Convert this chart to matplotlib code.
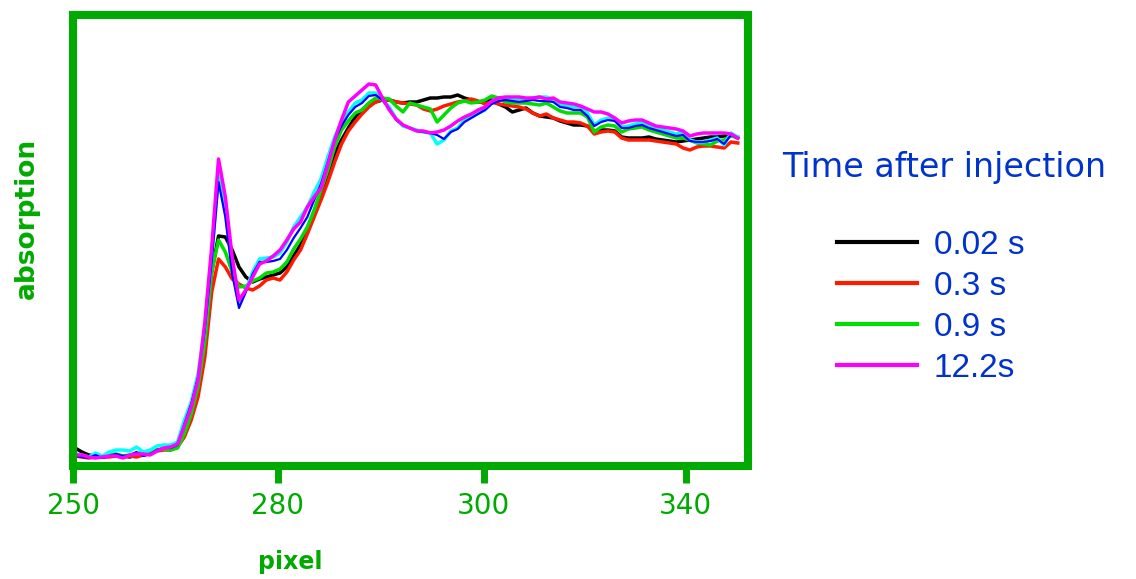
import matplotlib
matplotlib.use("Agg")
import matplotlib.pyplot as plt
from matplotlib import font_manager
import numpy as np

# detector pixel index
pixel = np.arange(250, 348)

# absorption (arbitrary units), one trace per delay
abs_002 = [14, 10, 7, 6, 5, 6, 7, 6, 5, 7,
           9, 10, 12, 13, 14, 18, 30, 50, 75, 120,
           190, 226, 225, 212, 195, 185, 180, 183, 185, 187,
           189, 195, 206, 217, 230, 250, 268, 289, 308, 322,
           334, 345, 352, 358, 360, 362, 362, 360, 359, 360,
           360, 362, 364, 364, 365, 365, 367, 364, 362, 360,
           361, 362, 358, 355, 350, 352, 354, 349, 346, 345,
           344, 341, 339, 337, 337, 336, 331, 332, 332, 331,
           325, 324, 324, 324, 325, 323, 322, 321, 320, 321,
           322, 323, 324, 325, 325, 326, 327, 324]
abs_03 = [6, 5, 4, 5, 5, 5, 6, 5, 6, 5,
          7, 8, 11, 12, 12, 15, 25, 42, 65, 105,
          170, 203, 195, 183, 178, 174, 172, 176, 182, 184,
          182, 190, 202, 212, 228, 245, 262, 280, 300, 318,
          331, 340, 348, 355, 360, 363, 362, 360, 359, 358,
          357, 353, 351, 353, 356, 358, 360, 361, 363, 361,
          358, 360, 358, 357, 356, 355, 353, 349, 346, 348,
          344, 342, 340, 340, 339, 336, 328, 330, 331, 330,
          324, 322, 322, 322, 322, 321, 320, 319, 318, 314,
          312, 315, 316, 316, 315, 314, 320, 319]
abs_09 = [8, 6, 5, 5, 6, 7, 8, 6, 7, 8,
          10, 11, 12, 13, 12, 14, 28, 48, 75, 120,
          190, 222, 210, 190, 175, 176, 181, 184, 189, 190,
          193, 200, 213, 223, 235, 252, 272, 292, 315, 332,
          341, 349, 352, 359, 364, 364, 363, 356, 350, 359,
          357, 355, 353, 340, 347, 354, 359, 361, 359, 360,
          362, 366, 364, 360, 359, 359, 359, 358, 357, 359,
          355, 351, 349, 349, 349, 345, 330, 335, 337, 336,
          330, 333, 334, 335, 332, 330, 328, 326, 324, 324,
          322, 319, 318, 317, 321, 322, 326, 325]
abs_blue = [6, 5, 4, 7, 4, 6, 8, 6, 7, 10,
            6, 8, 12, 14, 14, 17, 38, 58, 85, 132,
            200, 280, 245, 188, 154, 170, 188, 200, 200, 201,
            203, 212, 224, 234, 245, 262, 278, 300, 322, 336,
            347, 355, 359, 366, 367, 362, 353, 342, 337, 334,
            331, 330, 329, 327, 323, 330, 333, 340, 344, 348,
            352, 358, 361, 362, 361, 360, 361, 362, 361, 361,
            360, 355, 354, 352, 352, 346, 336, 340, 342, 341,
            334, 334, 336, 337, 334, 332, 330, 328, 326, 327,
            321, 320, 320, 321, 323, 318, 327, 324]
abs_cyan = [8, 7, 5, 9, 6, 10, 12, 12, 11, 15,
            10, 12, 16, 17, 17, 20, 42, 60, 88, 135,
            205, 287, 250, 195, 158, 172, 190, 203, 204, 205,
            209, 220, 235, 245, 255, 270, 283, 305, 325, 340,
            350, 359, 362, 369, 369, 362, 355, 343, 336, 334,
            332, 330, 329, 318, 322, 331, 334, 342, 345, 349,
            352, 360, 363, 363, 362, 362, 363, 364, 365, 365,
            362, 357, 356, 355, 355, 349, 337, 342, 344, 343,
            335, 336, 338, 340, 336, 334, 332, 330, 328, 330,
            322, 320, 320, 322, 324, 317, 329, 325]
abs_122 = [7, 7, 5, 4, 5, 6, 6, 4, 7, 8,
           8, 7, 11, 14, 15, 18, 36, 55, 82, 140,
           215, 303, 265, 205, 162, 172, 185, 198, 201, 206,
           212, 222, 233, 240, 255, 265, 274, 298, 322, 342,
           360, 366, 372, 378, 377, 364, 352, 343, 337, 334,
           331, 331, 329, 330, 332, 336, 341, 345, 348, 352,
           355, 361, 364, 365, 365, 365, 364, 364, 365, 363,
           364, 360, 359, 358, 356, 353, 350, 350, 348, 344,
           339, 341, 342, 342, 339, 336, 335, 334, 333, 331,
           326, 328, 329, 329, 329, 329, 328, 324]

# the original axis is labelled unevenly; ticks sit where the picture has them
tick_pos = [249.7, 279.7, 309.85, 339.4]
tick_labels = ["250", "280", "300", "340"]
legend_labels = ["0.02 s", "0.3 s", "0.9 s", "12.2s"]

GREEN = "#00aa00"
BLUE_TXT = "#0033cc"

# narrow face if there is one, otherwise plain DejaVu at smaller sizes
names = {f.name for f in font_manager.fontManager.ttflist}
if "Liberation Sans Narrow" in names:
    narrow, tick_fs, title_fs, xl_fs = "Liberation Sans Narrow", 23, 28, 22
elif "DejaVu Sans Condensed" in names:
    narrow, tick_fs, title_fs, xl_fs = "DejaVu Sans Condensed", 21, 25, 19
else:
    narrow, tick_fs, title_fs, xl_fs = "DejaVu Sans", 20, 24, 17

fig = plt.figure(figsize=(11.36, 5.79), dpi=100)
ax = fig.add_axes([73 / 1136, 1 - 466 / 579, 675 / 1136, 451 / 579])

lw = 2.5
l1, = ax.plot(pixel, abs_002, color="black", lw=lw)
l2, = ax.plot(pixel, abs_03, color="#ff1a00", lw=lw)
l3, = ax.plot(pixel, abs_09, color="#00dd00", lw=lw)
ax.plot(pixel, abs_cyan, color="cyan", lw=lw)
ax.plot(pixel, abs_blue, color="blue", lw=1.6)
l4, = ax.plot(pixel, abs_122, color="magenta", lw=lw)

ax.set_xlim(249.7, 348.5)
ax.set_ylim(-4, 447)
ax.set_yticks([])
ax.set_xticks(tick_pos)
ax.set_xticklabels(tick_labels, fontfamily=narrow, fontsize=tick_fs)
ax.tick_params(axis="x", colors=GREEN, length=12, width=5, pad=7)
for sp in ax.spines.values():
    sp.set_color(GREEN)
    sp.set_linewidth(5.8)

fig.text(290 / 1136, 1 - 562 / 579, "pixel", color=GREEN, fontsize=xl_fs,
         fontweight="bold", fontfamily=narrow, ha="center", va="center")
fig.text(27 / 1136, 1 - 218 / 579, "absorption", color=GREEN, fontsize=19,
         fontweight="bold", rotation=90, ha="center", va="center")

fig.text(944 / 1136, 1 - 167 / 579, "Time after injection", color=BLUE_TXT,
         fontsize=title_fs, fontfamily=narrow, ha="center", va="center")
leg = fig.legend([l1, l2, l3, l4], legend_labels, loc="upper left",
                 bbox_to_anchor=(837 / 1136, 1 - 230 / 579), frameon=False,
                 prop={"family": "Liberation Sans", "size": 24},
                 handlelength=2.4, handletextpad=0.5, labelspacing=0.3,
                 borderpad=0, borderaxespad=0)
for t in leg.get_texts():
    t.set_color(BLUE_TXT)
for h in leg.get_lines():
    h.set_linewidth(3)

fig.savefig("out.png", dpi=100)
